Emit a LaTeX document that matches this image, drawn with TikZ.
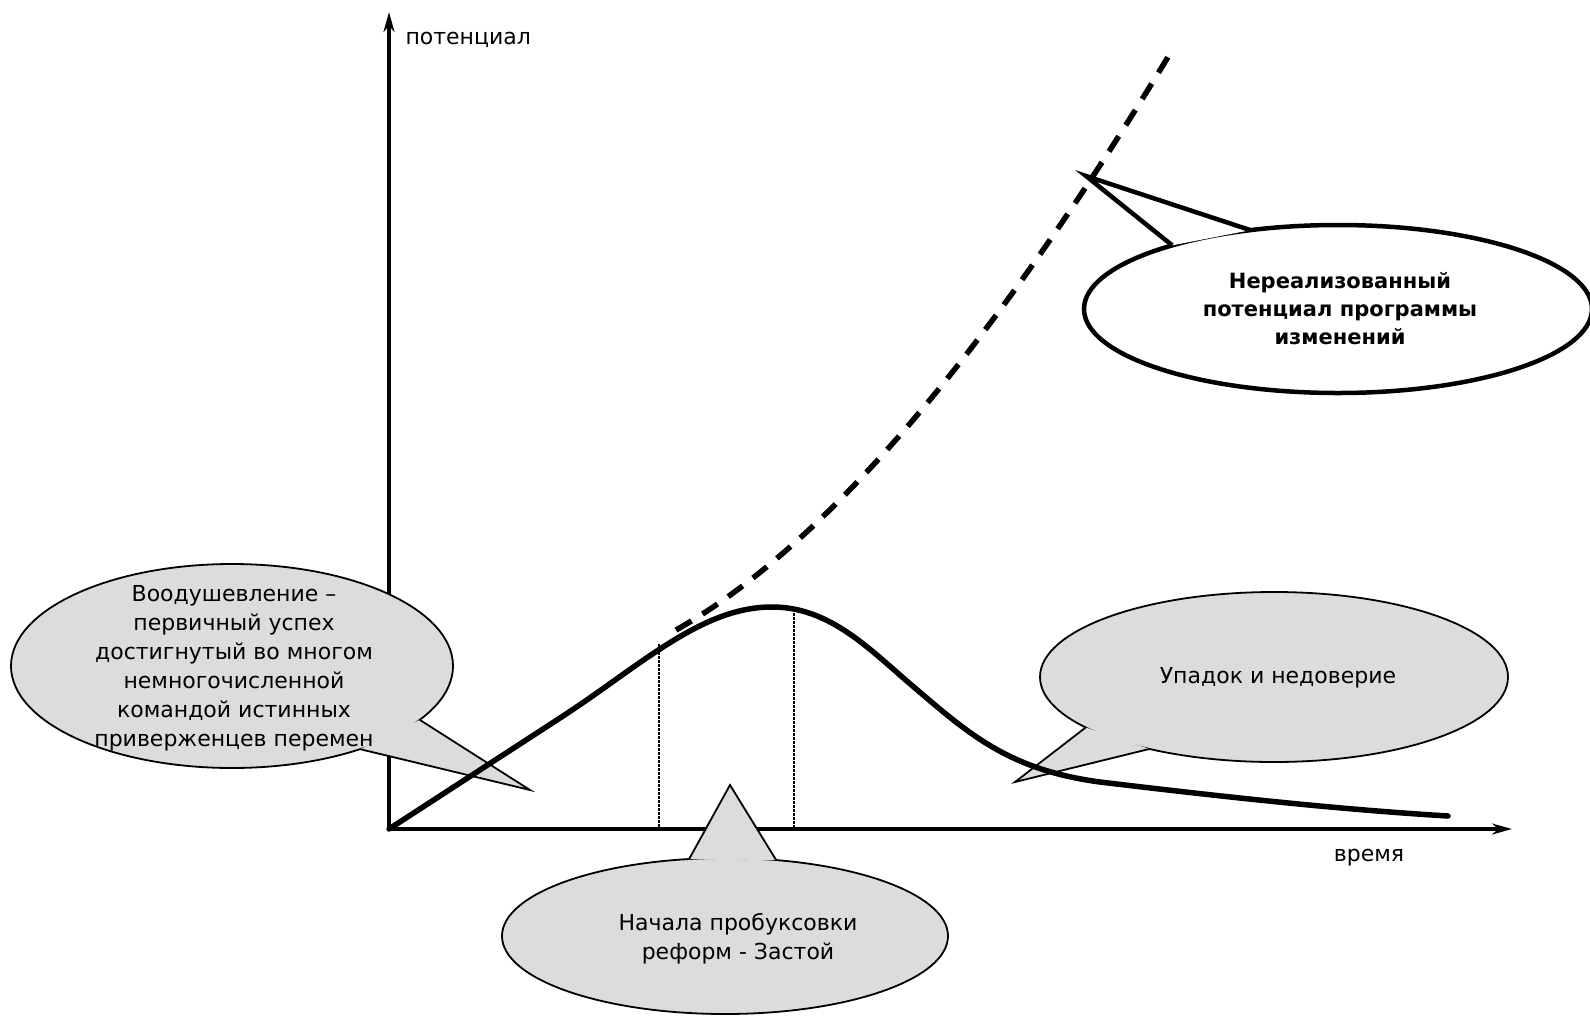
\documentclass[tikz,border=0pt]{standalone}
\usepackage{fontspec}
\setmainfont{DejaVu Sans}
\usetikzlibrary{arrows.meta,shapes.geometric}
\definecolor{bubblegray}{RGB}{220,220,220}

\begin{document}
\begin{tikzpicture}[x=1pt,y=-1pt,>={Stealth[length=20pt,width=11pt]},
  every node/.style={font=\fontsize{22}{29}\selectfont},
  axis/.style={line width=3.5pt,->},
  bubble/.style={ellipse,draw,fill=bubblegray,line width=1.8pt,inner sep=0pt,outer sep=0pt},
  bigbubble/.style={ellipse,draw,fill=white,line width=4.5pt,inner sep=0pt,outer sep=0pt},
  note/.style={align=center},
  curve/.style={line width=5.5pt,line cap=round},
  hopeline/.style={line width=5.5pt,dash pattern=on 18pt off 13pt},
  guide/.style={line width=2.2pt,dash pattern=on 2.5pt off 1.5pt}]
\useasboundingbox (0,0) rectangle (1590,1015);

% axes
\coordinate (o) at (389,829);
\coordinate (ytop) at (389,12);
\coordinate (xend) at (1512,829);
\draw[axis] (o) -- (ytop);
\draw[axis] (o) -- (xend);
\node[anchor=west] (ylab) at (402,40) {потенциал};
\node (xlab) at (1369,858) {время};

% guides under the hump
\coordinate (g1) at (659,644); \coordinate (g1a) at (659,829);
\coordinate (g2) at (794,609); \coordinate (g2a) at (794,829);
\draw[guide] (g1) -- (g1a);
\draw[guide] (g2) -- (g2a);

% grey callouts
\node[bubble,minimum width=442pt,minimum height=204pt] (left) at (232,666) {};
\coordinate (lefttip) at (530,790);
\fill[bubblegray] (left.-16) -- (lefttip) -- (left.-33) -- cycle;
\draw[line width=1.8pt] (left.-16) -- (lefttip) -- (left.-33);
\node[note] (lefttxt) at (234,668) {Воодушевление –\\первичный успех\\достигнутый во многом\\немногочисленной\\командой истинных\\приверженцев перемен};

\node[bubble,minimum width=446pt,minimum height=156pt] (mid) at (725,936) {};
\coordinate (midtip) at (730,785);
\fill[bubblegray] (mid.115) -- (midtip) -- (mid.56) -- cycle;
\draw[line width=1.8pt] (mid.115) -- (midtip) -- (mid.56);
\node[note] (midtxt) at (738,939) {Начала пробуксовки\\реформ - Застой};

\node[bubble,minimum width=468pt,minimum height=170pt] (right) at (1274,677) {};
\coordinate (righttip) at (1015,782);
\fill[bubblegray] (right.195) -- (righttip) -- (right.210) -- cycle;
\draw[line width=1.8pt] (right.195) -- (righttip) -- (right.210);
\node (righttxt) at (1278,678) {Упадок и недоверие};

% the curve and the missed growth
\draw[curve] (o) -- (560,718) .. controls (640,666) and (700,608) .. (770,607)
  .. controls (830,606) and (870,650) .. (915,688)
  .. controls (970,735) and (1010,770) .. (1100,782)
  .. controls (1250,800) and (1350,810) .. (1448,816);
\draw[hopeline] (676,630) .. controls (800,560) and (960,400) .. (1168,57);

% white callout
\node[bigbubble,minimum width=508pt,minimum height=168pt] (top) at (1338,309) {};
\coordinate (toptip) at (1086,176);
\fill[white] (top.138) -- (toptip) -- (top.159) -- cycle;
\draw[line width=4.5pt,line join=miter] (top.138) -- (toptip) -- (top.159);
\node[note,font=\fontsize{21}{28}\selectfont\bfseries] (toptxt) at (1340,309) {Нереализованный\\потенциал программы\\изменений};
\end{tikzpicture}
\end{document}
